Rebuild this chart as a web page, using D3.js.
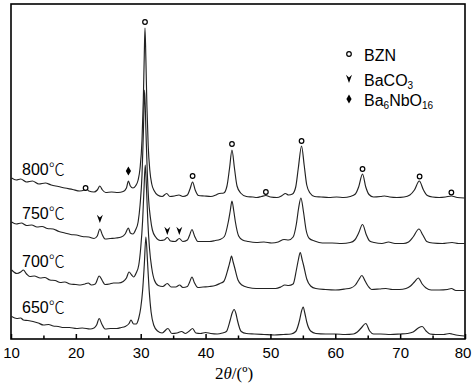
<!DOCTYPE html>
<html><head><meta charset="utf-8">
<script src="https://cdn.jsdelivr.net/npm/d3@7"></script>
<style>
html,body{margin:0;padding:0;background:#fff;}
svg{display:block;}
</style></head>
<body>
<script>
// ---- data (2θ in degrees, stacked intensity in a.u.) ----
const xTicksMajor = [10,20,30,40,50,60,70,80];
const xTicksMinor = [15,25,35,45,55,65,75];
const tempValues = ["800","750","700","650"];
const tempUnit = "℃";

const xrd800 = [[10.1,161],[10.8,159],[11.5,160],[12.4,157],[13.3,158],[14.3,155],[15.3,156],[16.2,154],[17.3,152.5],[18.3,151],[19.5,149.5],[20.6,148],[21.3,149],[21.6,150.5],[22.0,148],[22.8,147],[23.3,149],[23.7,153],[24.1,149],[24.6,146.5],[25.5,147],[26.5,146.5],[27.3,147.5],[27.8,151],[28.1,158],[28.4,153],[28.8,151],[29.2,153],[29.6,159],[29.9,171],[30.2,199],[30.4,239],[30.55,284],[30.66,311],[30.8,279],[30.95,234],[31.15,194],[31.4,169],[31.7,155],[32.1,148],[32.6,144],[33.3,142.5],[34.0,145.5],[34.5,142.5],[35.2,143],[35.9,144],[36.5,142.5],[37.2,144],[37.6,150],[38.0,157],[38.4,149],[38.9,143.5],[39.8,143],[40.8,142.5],[41.6,144],[42.1,145.5],[42.8,146],[43.3,153],[43.7,171],[44.07,189],[44.45,171],[44.85,153],[45.4,146],[46.3,142.5],[47.3,142],[47.9,141.5],[48.6,142.5],[49.3,143.5],[50.0,142],[51.0,141.5],[51.8,143.5],[52.3,145.5],[52.8,144],[53.4,145],[53.9,152],[54.3,171],[54.8,193],[55.2,174],[55.6,154],[56.1,146],[56.8,142.5],[57.8,142],[59.0,141.5],[60.2,142],[61.3,141.5],[62.3,142.5],[63.1,145],[63.6,152],[64.2,165],[64.7,152],[65.2,144.5],[65.9,142],[67.0,142.5],[67.6,143],[68.4,142],[69.5,141.5],[70.6,142],[71.5,144],[72.2,149],[72.95,158],[73.6,149],[74.2,143.5],[75.0,142],[76.0,141.5],[77.0,142],[77.9,143],[78.8,141.5],[79.9,141]];

const xrd750 = [[10.1,117],[10.8,115],[11.6,116],[12.4,113.5],[13.2,114],[14.0,112],[14.8,112.5],[15.6,110.5],[16.5,110],[17.4,107.5],[18.3,106],[19.2,104.5],[20.1,104],[21.0,102.5],[22.0,102],[22.8,100.5],[23.3,103],[23.7,110],[24.1,104],[24.5,100],[25.3,100.5],[26.2,101],[27.0,102],[27.6,105],[28.1,111],[28.4,106],[28.8,105],[29.2,109],[29.6,117],[29.9,134],[30.2,164],[30.4,204],[30.6,249],[30.8,209],[31.0,169],[31.2,141],[31.5,121],[31.8,109],[32.3,102],[33.0,98.5],[33.6,99],[34.1,101.5],[34.6,98],[35.3,97.5],[35.95,100.5],[36.5,97.5],[37.2,99],[37.55,104],[37.9,109.5],[38.3,103],[38.8,97.5],[39.6,97.5],[40.6,97.5],[41.5,98.5],[42.2,99.5],[42.9,102.5],[43.5,117],[43.8,128],[44.07,138],[44.35,128],[44.6,117],[45.1,103],[45.7,99],[46.6,97.5],[47.8,96.5],[49.0,97],[50.2,96],[51.2,97],[52.1,99.5],[52.8,99],[53.5,102],[54.0,115],[54.35,131],[54.7,141],[55.1,127],[55.5,109],[56.0,100.5],[56.8,98],[58.0,96],[59.5,96],[61.0,95.5],[62.3,96.5],[63.0,99],[63.6,106],[64.2,114.5],[64.8,104],[65.3,98],[66.0,96.5],[67.2,95.5],[68.2,97],[69.2,95.5],[70.5,95.5],[71.3,97],[72.0,102],[72.9,110],[73.5,104],[74.1,97.5],[75.0,96],[76.5,95.5],[78.0,96.5],[79.0,95.5],[79.9,95.5]];

const xrd700 = [[10.1,69],[10.9,65.5],[11.5,67],[11.9,69],[12.4,65],[12.9,62.5],[13.6,63],[14.5,61],[15.2,61.5],[16.0,59],[16.8,58.5],[17.6,56.5],[18.3,57],[19.1,55],[20.0,54.5],[20.7,54],[21.4,55],[21.9,56],[22.4,54],[23.0,55],[23.6,63],[24.1,58],[24.5,54.5],[25.2,55],[25.8,56],[26.6,56],[27.3,57.5],[27.8,61],[28.2,67],[28.6,64],[28.9,62],[29.3,66],[29.7,74],[30.0,91],[30.3,119],[30.5,149],[30.7,174],[30.9,149],[31.1,117],[31.35,91],[31.7,71],[32.1,59],[32.7,53.5],[33.4,52.5],[34.1,55.5],[34.7,52],[35.4,52],[36.0,54],[36.5,51.5],[37.2,52.5],[37.55,57],[37.9,62],[38.3,56],[38.8,51.5],[39.6,52],[40.6,52.5],[41.5,53.5],[42.2,55.5],[42.8,57.5],[43.5,71],[43.75,77],[44.0,83],[44.25,77],[44.5,71],[45.0,59],[45.6,54],[46.6,51.5],[47.8,50.5],[49.5,50.5],[50.8,50.5],[51.6,52],[52.2,54],[52.8,53.5],[53.5,55],[54.0,69],[54.3,79],[54.6,86.5],[54.9,79],[55.1,74],[55.6,60],[56.2,53],[57.0,50.5],[58.5,49.5],[60.0,49],[61.5,50],[62.4,51],[63.1,54],[63.6,59],[64.1,63.5],[64.6,58],[65.1,52.5],[65.6,49.5],[66.8,50],[67.8,50.5],[68.8,49.5],[69.9,49.5],[70.9,50.5],[71.6,53],[72.2,57],[72.8,61],[73.4,55],[74.0,51],[74.8,49],[76.0,49],[77.3,49.5],[77.9,50.5],[78.6,48.5],[79.9,48.5]];

const xrd650 = [[10.1,22.5],[10.9,20.5],[11.5,21],[11.9,19],[12.6,18.5],[13.4,17.5],[14.2,16],[15.0,14],[15.8,14.5],[16.5,13],[17.3,12.5],[18.1,11.5],[19.0,11.5],[20.1,10.5],[21.0,11],[22.2,10],[22.8,11],[23.2,14],[23.6,20.5],[24.0,15],[24.5,10],[25.4,10.5],[26.3,10.5],[27.0,11.5],[27.6,12.5],[28.2,15.5],[28.5,19],[28.9,15],[29.3,15],[29.7,21],[30.0,31],[30.3,49],[30.55,74],[30.8,102],[31.05,77],[31.3,49],[31.6,27],[32.0,14],[32.6,8],[33.3,6],[34.2,10.5],[34.8,5.5],[35.6,6],[36.3,7.5],[36.9,5.5],[37.5,8],[38.0,10.5],[38.5,6],[39.2,5.5],[40.0,6.5],[40.8,5.5],[41.8,5],[42.6,6],[43.2,7.5],[43.8,19],[44.1,26],[44.4,29.5],[44.7,25],[44.9,19],[45.5,7.5],[46.3,5.5],[47.5,5],[49.0,4.5],[50.6,4],[52.0,4.5],[53.2,5],[53.9,7.5],[54.5,19],[54.8,28],[55.05,32],[55.3,26],[55.6,17],[56.2,8],[57.0,5.5],[58.5,5],[60.0,5],[61.5,4.5],[62.8,5],[63.4,7],[64.0,11],[64.7,15.5],[65.3,8],[65.9,5],[67.0,5],[68.5,4.5],[70.0,5],[71.1,5.5],[72.0,7],[72.8,11],[73.4,12.5],[74.0,8],[74.6,5],[75.5,4.5],[76.7,4.5],[77.6,5.5],[78.0,5],[78.6,4],[79.9,3]];

// phase markers [2θ, intensity]
const bznMarks = [[21.5,151],[30.66,317],[38.0,163],[44.07,195],[49.3,147],[54.8,198],[64.2,170],[73.0,162.5],[77.9,146.5]];
const baco3Marks = [[23.7,120],[34.1,108],[35.95,108]];
const ba6Marks = [[28.1,168]];

const traces = [xrd800, xrd750, xrd700, xrd650];

// ---- drawing ----
const W = 472, H = 386;
const svg = d3.select("body").append("svg").attr("width", W).attr("height", H);
const x = d3.scaleLinear().domain([10, 80]).range([11, 465]);
const y = d3.scaleLinear().domain([0, 335]).range([339, 4]);

const line = d3.line().x(d => x(d[0])).y(d => y(d[1])).curve(d3.curveMonotoneX);

svg.append("g").selectAll("path").data(traces).join("path")
  .attr("d", line).attr("fill", "none").attr("stroke", "#222").attr("stroke-width", 1.15)
  .attr("stroke-linejoin", "round");

// axis ticks
const axMaj = d3.axisBottom(x).tickValues(xTicksMajor).tickSize(-5).tickPadding(8.5).tickFormat(d3.format("d"));
const gA = svg.append("g").attr("transform", "translate(0,339)").call(axMaj);
gA.select(".domain").remove();
gA.selectAll("line").attr("stroke", "#000").attr("stroke-width", 1.5);
gA.selectAll("text").attr("font-family", "Arial, 'Liberation Sans', sans-serif").attr("font-size", 15).attr("fill", "#000")
  .attr("dx", d => d === 80 ? -2.5 : 0);
const axMin = d3.axisBottom(x).tickValues(xTicksMinor).tickSize(-3.5).tickFormat("");
const gB = svg.append("g").attr("transform", "translate(0,339)").call(axMin);
gB.select(".domain").remove();
gB.selectAll("line").attr("stroke", "#000").attr("stroke-width", 1.5);

// frame
svg.append("rect").attr("x", x(10)).attr("y", y(335)).attr("width", x(80) - x(10)).attr("height", y(0) - y(335))
  .attr("fill", "none").attr("stroke", "#000").attr("stroke-width", 1.6);

// axis title
const title = svg.append("text").attr("x", 234).attr("y", 379).attr("text-anchor", "middle")
  .attr("font-family", "'Times New Roman', 'Liberation Serif', serif").attr("font-size", 17).attr("fill", "#000");
title.append("tspan").text("2");
title.append("tspan").attr("font-style", "italic").text("θ");
title.append("tspan").text("/(º)");

// temperature labels
const tl = svg.append("g").selectAll("text").data(traces).join("text")
  .attr("x", x(11.7)).attr("y", (d) => y(d[0][1]) - 3.5)
  .attr("font-family", "Arial, 'Liberation Sans', sans-serif").attr("font-size", 16).attr("fill", "#000");
tl.append("tspan").text((d, i) => tempValues[i]);
tl.append("tspan").attr("font-family", "'Noto Sans CJK SC', sans-serif").attr("font-weight", 300).attr("font-size", 16).text(tempUnit);

// markers
svg.append("g").selectAll("circle").data(bznMarks).join("circle")
  .attr("cx", d => x(d[0])).attr("cy", d => y(d[1])).attr("r", 2.3)
  .attr("fill", "#fff").attr("stroke", "#000").attr("stroke-width", 1.2);
const arrowPath = "M-3,-4.2 L0,-1.6 L3,-4.2 L0,4 Z";
svg.append("g").selectAll("path").data(baco3Marks).join("path")
  .attr("transform", d => `translate(${x(d[0])},${y(d[1])})`).attr("d", arrowPath).attr("fill", "#000");
const diamondPath = "M0,-4.5 L2.6,0 L0,4.5 L-2.6,0 Z";
svg.append("g").selectAll("path").data(ba6Marks).join("path")
  .attr("transform", d => `translate(${x(d[0])},${y(d[1])})`).attr("d", diamondPath).attr("fill", "#000");

// legend
const lg = svg.append("g").attr("font-family", "Arial, 'Liberation Sans', sans-serif").attr("font-size", 16).attr("fill", "#000");
lg.append("circle").attr("cx", 349).attr("cy", 54).attr("r", 2.3).attr("fill", "#fff").attr("stroke", "#000").attr("stroke-width", 1.2);
lg.append("text").attr("x", 364).attr("y", 61).text("BZN");
lg.append("path").attr("transform", "translate(349,79)").attr("d", arrowPath).attr("fill", "#000");
const t2 = lg.append("text").attr("x", 364).attr("y", 86);
t2.append("tspan").text("BaCO");
t2.append("tspan").attr("font-size", 10).attr("dy", 3).text("3");
lg.append("path").attr("transform", "translate(349,99)").attr("d", diamondPath).attr("fill", "#000");
const t3 = lg.append("text").attr("x", 364).attr("y", 106);
t3.append("tspan").text("Ba");
t3.append("tspan").attr("font-size", 10).attr("dy", 3).text("6");
t3.append("tspan").attr("dy", -3).text("NbO");
t3.append("tspan").attr("font-size", 10).attr("dy", 3).text("16");
</script>
</body></html>
